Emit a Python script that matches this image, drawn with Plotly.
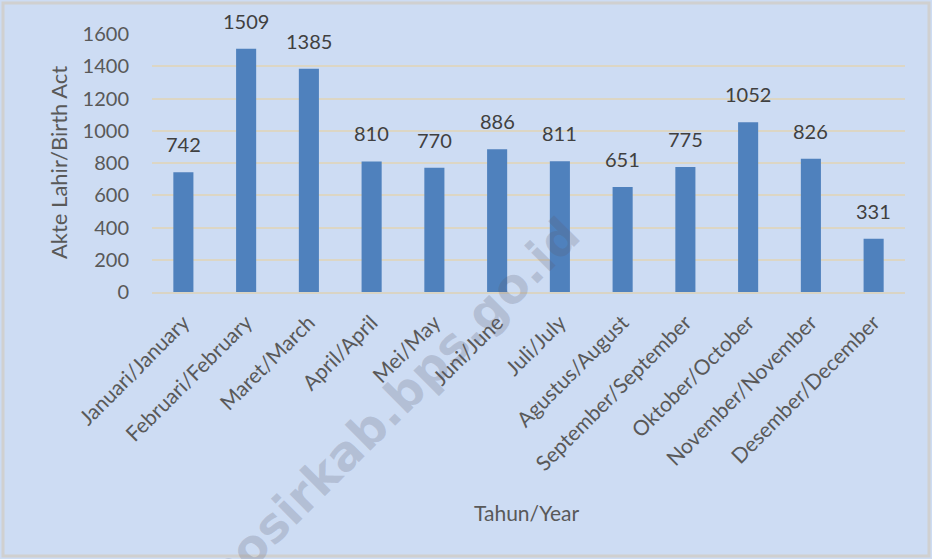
import plotly.graph_objects as go

months = ["Januari/January", "Februari/February", "Maret/March", "April/April", "Mei/May",
          "Juni/June", "Juli/July", "Agustus/August", "September/September",
          "Oktober/October", "November/November", "Desember/December"]
births = [742, 1509, 1385, 810, 770, 886, 811, 651, 775, 1052, 826, 331]
y_ticks = [0, 200, 400, 600, 800, 1000, 1200, 1400, 1600]

FONT = "Lato"
TXT = "#595959"
fig = go.Figure(go.Bar(
    x=months, y=births, marker_color="#4f81bd", marker_line_width=0, hoverinfo="skip",
))

W, H = 932, 559
ml, mr, mt, mb = 152, 27, 34, 267
pw, ph = W - ml - mr, H - mt - mb

annotations = [dict(x=m, y=v, xref="x", yref="y", text=str(v), showarrow=False,
                    yanchor="bottom", yshift=14,
                    font=dict(family=FONT, size=20, color="#404040"))
               for m, v in zip(months, births)]
annotations += [
    dict(text="Tahun/Year", xref="paper", yref="paper", x=(527 - ml) / pw, y=-(512 - mt - ph) / ph,
         showarrow=False, xanchor="center", yanchor="middle", font=dict(family=FONT, size=21, color=TXT)),
    dict(text="Akte Lahir/Birth Act", xref="paper", yref="paper", x=-(ml - 58) / pw, y=0.5,
         showarrow=False, textangle=-90, xanchor="center", yanchor="middle",
         font=dict(family=FONT, size=22, color=TXT)),
    dict(text="<b>posirkab.bps.go.id</b>", xref="paper", yref="paper",
         x=(392 - ml) / pw, y=1 - (405 - mt) / ph, showarrow=False, textangle=-45,
         font=dict(family="DejaVu Sans", size=48, color="rgba(90,90,110,0.22)"),
         xanchor="center", yanchor="middle"),
]

fig.update_layout(
    width=W, height=H,
    margin=dict(l=ml, r=mr, t=mt, b=mb, autoexpand=False),
    paper_bgcolor="#cddcf3", plot_bgcolor="rgba(0,0,0,0)",
    bargap=0.68, showlegend=False, hovermode=False,
    font=dict(family=FONT, color=TXT),
    xaxis=dict(tickangle=-45, tickfont=dict(size=21, color=TXT), showgrid=False,
               showline=True, linecolor="#d9d4c4", linewidth=2, ticks="", automargin=False,
               ticklabelstandoff=8),
    yaxis=dict(range=[0, 1600], tickvals=y_ticks, tickfont=dict(size=20, color=TXT),
               gridcolor="#dcd6c4", gridwidth=2, zeroline=False, showline=False, ticks="",
               automargin=False, ticklabelstandoff=22),
    shapes=[dict(type="rect", xref="paper", yref="paper",
                 x0=-(ml - 3) / pw, x1=1 + (mr - 3) / pw,
                 y0=-(mb - 3) / ph, y1=1 + (mt - 3) / ph,
                 line=dict(color="#d0d0d0", width=3), fillcolor="rgba(0,0,0,0)", layer="below")],
    annotations=annotations,
)
fig.write_html("out.html", config={"displayModeBar": False, "staticPlot": True})

with open("out.html", encoding="utf-8") as f:
    html = f.read()
html = html.replace("<body>", '<body style="margin:0;padding:0;overflow:hidden">', 1)
html = html.replace("<head>", '<head><style>html,body{margin:0;padding:0;}</style>', 1)
with open("out.html", "w", encoding="utf-8") as f:
    f.write(html)
